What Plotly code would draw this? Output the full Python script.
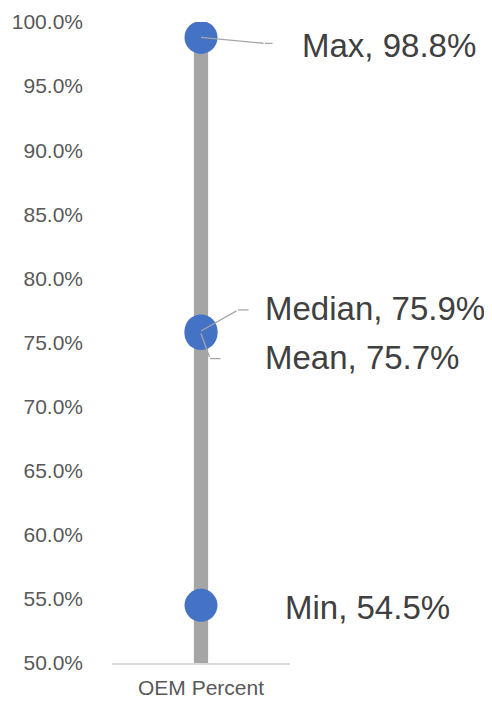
import plotly.graph_objects as go

categories = ["OEM Percent"]
stat_names = ["Max", "Median", "Mean", "Min"]
stat_values = [0.988, 0.759, 0.757, 0.545]
y_ticks = [0.50, 0.55, 0.60, 0.65, 0.70, 0.75, 0.80, 0.85, 0.90, 0.95, 1.00]

# styling: pixel offsets for labels and leader lines (text_dx, text_dy, elbow_dx, elbow_dy, tail_len)
label_style = {
    "Max": (99, -8, 64, -6, 9),
    "Median": (62, 22, 37, 21, 12),
    "Mean": (62, -24, 9, -25, 12),
    "Min": (82, -2, None, None, None),
}

FONT = "Liberation Sans, Arial, sans-serif"

fig = go.Figure()
fig.add_trace(go.Bar(
    x=categories, y=[max(stat_values)], width=0.08,
    marker=dict(color="#A5A5A5", line=dict(width=0)),
    hoverinfo="skip", showlegend=False,
))
fig.add_trace(go.Scatter(
    x=categories * len(stat_values), y=stat_values, mode="markers",
    marker=dict(size=33, color="#4472C4", line=dict(width=0)),
    showlegend=False,
))

annotations = []
for name, val in zip(stat_names, stat_values):
    tdx, tdy, edx, edy, tl = label_style[name]
    annotations.append(dict(
        x=categories[0], y=val, xref="x", yref="y",
        text=f"{name}, {val*100:.1f}%", showarrow=False,
        xanchor="left", yanchor="middle", xshift=tdx, yshift=tdy,
        font=dict(family=FONT, size=33, color="#404040"),
    ))
    if edx is not None:
        annotations.append(dict(
            x=categories[0], y=val, xref="x", yref="y", text="",
            showarrow=True, arrowhead=0, arrowwidth=1.3, arrowcolor="#A6A6A6",
            standoff=0, ax=edx, ay=-edy, axref="pixel", ayref="pixel",
        ))
        annotations.append(dict(
            x=categories[0], y=val, xref="x", yref="y", text="",
            showarrow=True, arrowhead=0, arrowwidth=1.3, arrowcolor="#A6A6A6",
            standoff=0, xshift=edx, yshift=edy, ax=tl, ay=0,
            axref="pixel", ayref="pixel",
        ))

fig.update_layout(
    width=492, height=706,
    margin=dict(l=104, r=210, t=14, b=51),
    paper_bgcolor="white", plot_bgcolor="white",
    annotations=annotations,
    font=dict(family=FONT),
    xaxis=dict(
        range=[-0.5, 0.5], showgrid=False, showline=True, linecolor="#D9D9D9",
        linewidth=1.5, ticks="", tickfont=dict(size=21, color="#595959"),
        ticklabelstandoff=5, automargin=False,
    ),
    yaxis=dict(
        range=[0.5, 1.0], tickvals=y_ticks, tickformat=".1%", showgrid=False,
        zeroline=False, showline=False, ticks="", automargin=False,
        tickfont=dict(size=21, color="#595959"), ticklabelstandoff=28,
    ),
)

fig.write_html("out.html")
